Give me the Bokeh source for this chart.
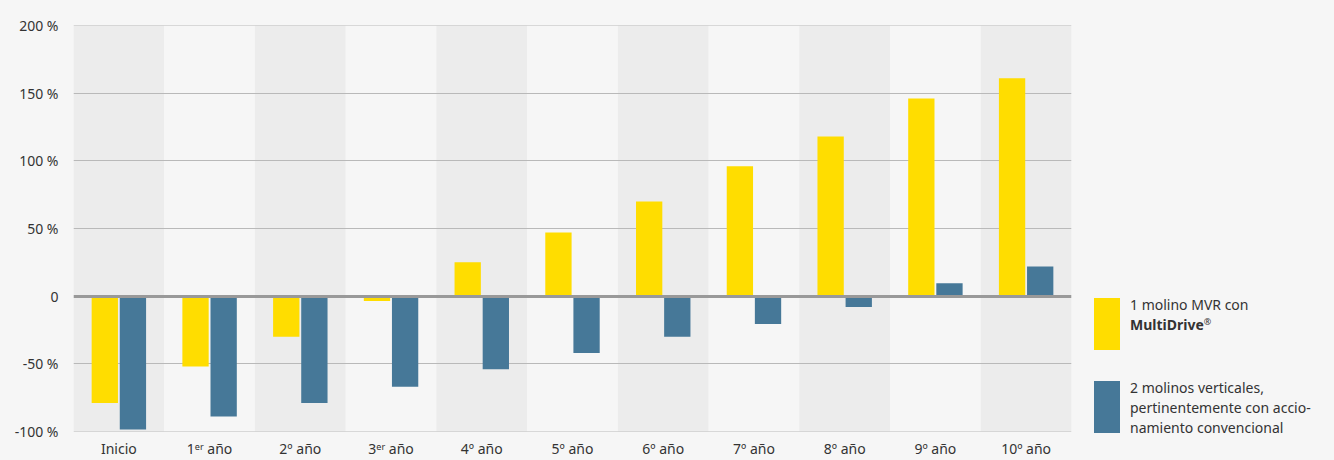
from bokeh.plotting import figure
from bokeh.models import Range1d, FixedTicker, GlobalInlineStyleSheet, Div
from bokeh.layouts import row
from bokeh.embed import file_html
from bokeh.resources import INLINE

categories = ["Inicio", "1ᵉʳ año", "2º año", "3ᵉʳ año", "4º año", "5º año",
              "6º año", "7º año", "8º año", "9º año", "10º año"]
mvr_multidrive = [-79, -52, -30, -3.5, 25, 47, 70, 96, 118, 146, 161]
dos_molinos = [-98.5, -89, -79, -67, -54, -42, -30, -20.5, -8, 9.5, 22]
y_ticks = [-100, -50, 0, 50, 100, 150, 200]
y_tick_labels = ["-100 %", "-50 %", "0", "50 %", "100 %", "150 %", "200 %"]
legend_labels = [["1 molino MVR con", "MultiDrive", "®"],
                 ["2 molinos verticales,", "pertinentemente con accio-", "namiento convencional"]]

YELLOW = "#FFDD00"
BLUE = "#467898"
BG = "#f6f6f6"
BAND = "#ececec"
FONT = "Noto Sans"
TXT = "#333333"

idx = list(range(len(categories)))

p = figure(width=1081, height=460, output_backend="svg", toolbar_location=None,
           x_range=Range1d(-0.5, len(categories) - 0.5), y_range=Range1d(-100, 200),
           min_border_left=73, min_border_right=10, min_border_top=25, min_border_bottom=28)
p.background_fill_color = BG
p.border_fill_color = BG
p.outline_line_color = None
p.xgrid.visible = False
p.ygrid.visible = False
p.stylesheets = [GlobalInlineStyleSheet(css="body{background:#f6f6f6;margin:0;overflow:hidden;}")]

# alternating column backgrounds
band_colors = [BAND if i % 2 == 0 else BG for i in idx]
p.vbar(x=idx, width=1.0, top=200, bottom=-100, fill_color=band_colors, line_color=None)

# horizontal grid lines
p.hspan(y=[t for t in y_ticks if t != 0], line_color="#b9b9b9", line_width=1)

off = 0.155
w = 0.29
p.vbar(x=[i - off for i in idx], width=w, top=mvr_multidrive, bottom=0,
       fill_color=YELLOW, line_color=None)
p.vbar(x=[i + off for i in idx], width=w, top=dos_molinos, bottom=0,
       fill_color=BLUE, line_color=None)

p.hspan(y=[0], line_color="#999999", line_width=3)

# axes
p.yaxis.ticker = FixedTicker(ticks=y_ticks)
p.yaxis.major_label_overrides = {t: l for t, l in zip(y_ticks, y_tick_labels)}
p.xaxis.ticker = FixedTicker(ticks=idx)
p.xaxis.major_label_overrides = {i: c for i, c in zip(idx, categories)}
for ax in (p.xaxis[0], p.yaxis[0]):
    ax.axis_line_color = None
    ax.major_tick_line_color = None
    ax.minor_tick_line_color = None
    ax.major_tick_out = 0
    ax.major_tick_in = 0
    ax.major_label_text_font = FONT
    ax.major_label_text_font_size = "14px"
    ax.major_label_text_color = TXT
p.yaxis.major_label_standoff = 15
p.xaxis.major_label_standoff = 7

# legend panel as HTML
sw = "position:absolute;left:13px;width:26px;height:52px;"
txt = "position:absolute;left:49px;white-space:nowrap;"
html = (
    f'<div style="position:relative;width:253px;height:460px;font-family:\'{FONT}\';'
    f'font-size:14px;color:{TXT};line-height:20px;">'
    f'<div style="{sw}top:298px;background:{YELLOW};"></div>'
    f'<div style="{txt}top:295px;">{legend_labels[0][0]}<br><b>{legend_labels[0][1]}</b>'
    f'<span style="font-size:9px;vertical-align:top;line-height:14px;">{legend_labels[0][2]}</span></div>'
    f'<div style="{sw}top:381px;background:{BLUE};"></div>'
    f'<div style="{txt}top:378px;">' + "<br>".join(legend_labels[1]) + '</div>'
    '</div>'
)
leg = Div(text=html, width=253, height=460, margin=0,
          styles={"background-color": BG})

layout = row(p, leg)
open("out.html", "w").write(file_html(layout, INLINE))
